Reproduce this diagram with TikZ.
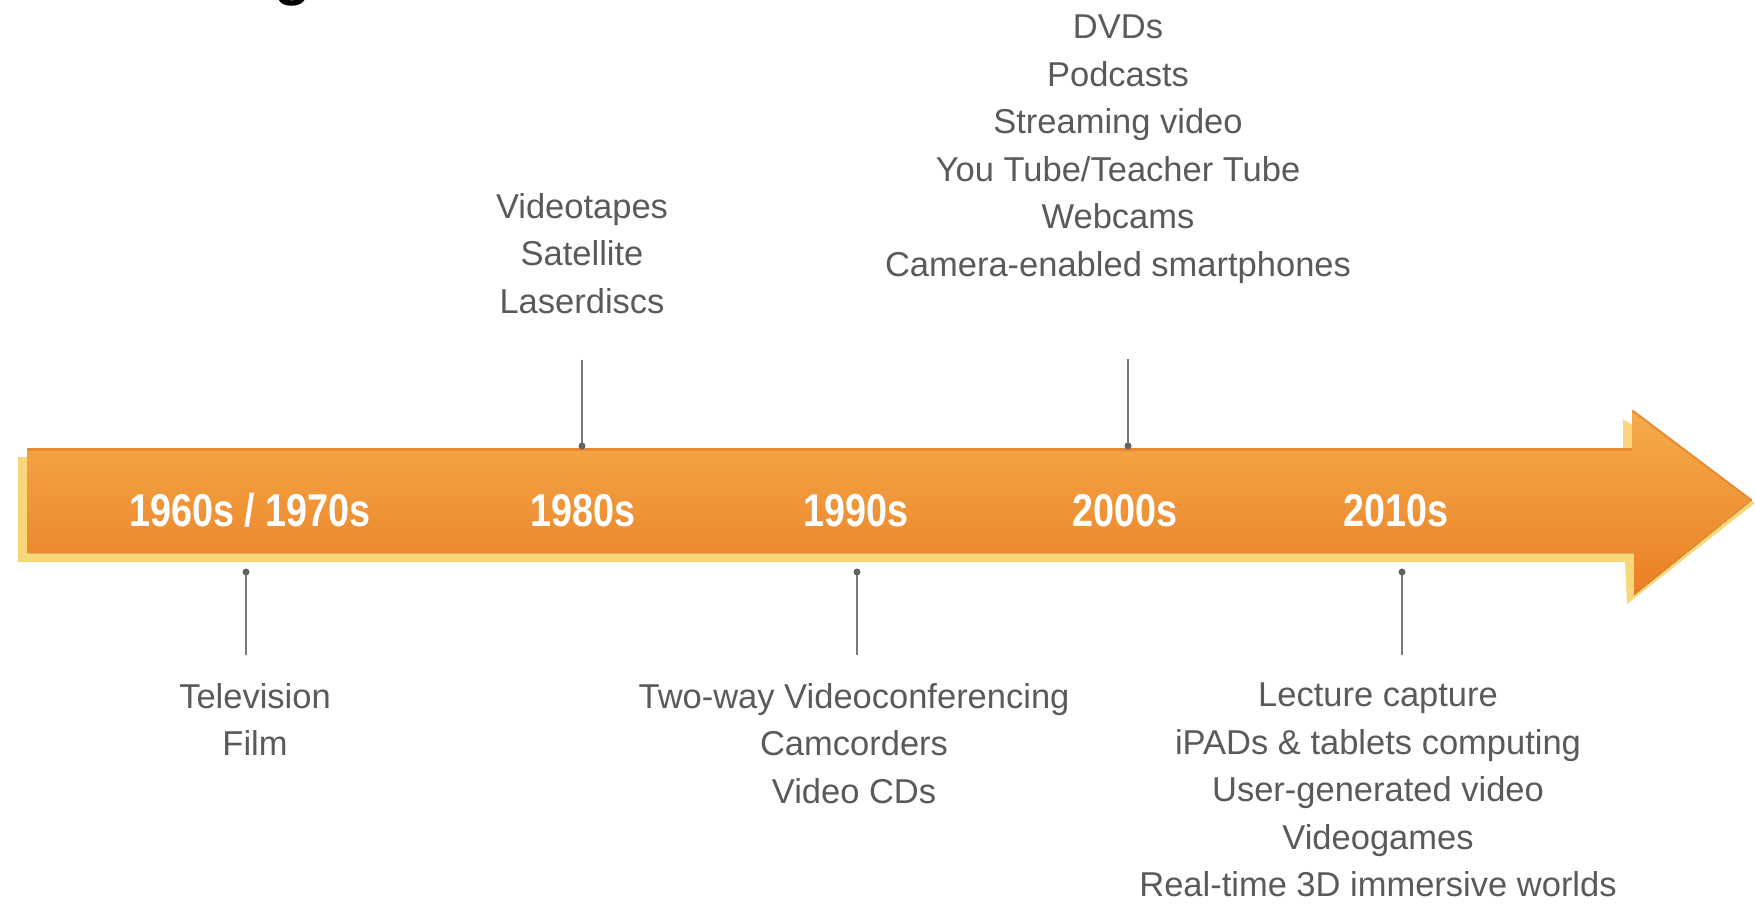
\documentclass[tikz,border=0pt]{standalone}
\usepackage{fontspec}
\setmainfont{Liberation Sans}
\newfontfamily\yearfont{Liberation Sans Bold}[FakeStretch=0.82]
\usetikzlibrary{positioning}

\definecolor{itemgray}{HTML}{5A5A5A}
\definecolor{tickgray}{HTML}{7A7A7A}
\definecolor{arrowtop}{HTML}{F5AC4C}
\definecolor{arrowmid}{HTML}{F19B3D}
\definecolor{arrowbot}{HTML}{EA7F25}
\definecolor{arrowedge}{HTML}{E98A32}
\definecolor{arrowyellow}{HTML}{F8D67A}

\tikzset{
  item/.style={align=center, inner sep=0pt, text=itemgray, font=\fontsize{34.5}{47.5}\selectfont},
  year/.style={inner sep=0pt, text=white, anchor=base, font=\yearfont\fontsize{46}{50}\selectfont},
  tick/.style={draw=tickgray, line width=2pt},
  tickdot/.style={fill=tickgray!80!black},
}

\begin{document}
\begin{tikzpicture}[x=1pt,y=1pt,yscale=-1,xscale=1]
\useasboundingbox (0,0) rectangle (1755,906);

% Text Node (cut title)
\node [anchor=base, inner sep=0pt, font=\bfseries\fontsize{60}{60}\selectfont] (title) at (293,-7) {g};

%Shape: Arrow (yellow bevel)
\fill [arrowyellow] (18,457) -- (1623,457) -- (1623,419) -- (1755,503) -- (1627,604) -- (1625,562) -- (18,562) -- cycle ;
%Shape: Arrow
\fill [top color=arrowtop, middle color=arrowmid, bottom color=arrowbot] (27,448) -- (1632,448) -- (1632,410) -- (1752,500) -- (1634,595) -- (1634,553) -- (27,553) -- cycle ;
%Straight Lines (top edge)
\draw [arrowedge, line width=3pt, line join=round] (27,449) -- (1632,449) ;
\draw [arrowedge, line width=2pt] (1633,411) -- (1751,500) ;

% Text Node
\node [year] (y60) at (250,526) {1960s / 1970s};
% Text Node
\node [year] (y80) at (583,526) {1980s};
% Text Node
\node [year] (y90) at (856,526) {1990s};
% Text Node
\node [year] (y00) at (1125,526) {2000s};
% Text Node
\node [year] (y10) at (1396,526) {2010s};

% Text Node
\node [item, anchor=north] (v80) at (582,193) {Videotapes\\Satellite\\Laserdiscs};
% Text Node
\node [item, anchor=north] (v00) at (1118,15) {DVDs\\Podcasts\\Streaming video\\You Tube/Teacher Tube\\Webcams\\Camera-enabled smartphones};
% Text Node
\node [item, anchor=north] (v60) at (255,683) {Television\\Film};
% Text Node
\node [item, anchor=north] (v90) at (854,683) {Two-way Videoconferencing\\Camcorders\\Video CDs};
% Text Node
\node [item, anchor=north] (v10) at (1378,683) {Lecture capture\\iPADs \& tablets computing\\User-generated video\\Videogames\\Real-time 3D immersive worlds};

% tick points on the arrow
\coordinate (d80) at (582,446);
\coordinate (d00) at (1128,446);
\coordinate (d60) at (246,572);
\coordinate (d90) at (857,572);
\coordinate (d10) at (1402,572);

%Straight Lines
\draw [tick, shorten <=46pt] (v80.south -| d80) -- (d80) ;
\draw [tick, shorten <=75pt] (v00.south -| d00) -- (d00) ;
\draw [tick, shorten <=28pt] (v60.north -| d60) -- (d60) ;
\draw [tick, shorten <=28pt] (v90.north -| d90) -- (d90) ;
\draw [tick, shorten <=28pt] (v10.north -| d10) -- (d10) ;
\foreach \d in {d80,d00,d60,d90,d10}
  \fill [tickdot] (\d) circle (3.5) ;

\end{tikzpicture}
\end{document}
